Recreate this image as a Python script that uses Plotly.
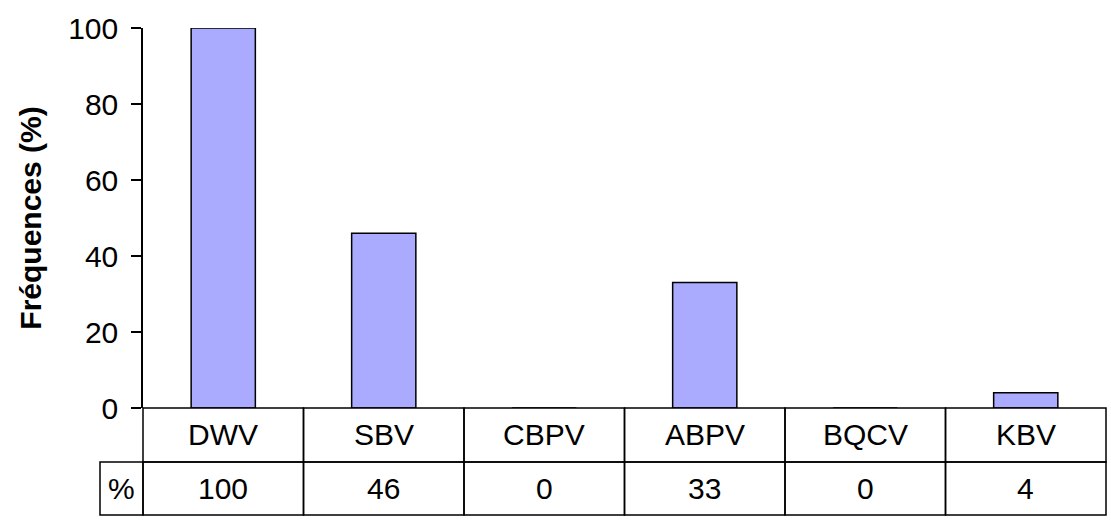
import plotly.graph_objects as go

categories = ["DWV", "SBV", "CBPV", "ABPV", "BQCV", "KBV"]
values = [100, 46, 0, 33, 0, 4]
row_label = "%"
y_ticks = [0, 20, 40, 60, 80, 100]
y_title = "Fréquences (%)"

FONT = "Liberation Sans, Arial, sans-serif"
FS = 30
fig = go.Figure()
fig.add_trace(go.Bar(
    x=list(range(len(categories))), y=values, width=0.4,
    marker=dict(color="#AAAAFF", line=dict(color="black", width=1.5)),
))

H = 380.0
W = 963.0
r1 = -54 / H
r2 = -107 / H
n = len(categories)
shapes = []
ln = dict(color="black", width=1.5)
for i in range(n):
    x0 = i / n
    x1 = (i + 1) / n
    shapes.append(dict(type="rect", xref="paper", yref="paper", x0=x0, x1=x1, y0=r1, y1=0,
                       line=ln, fillcolor="rgba(0,0,0,0)"))
    shapes.append(dict(type="rect", xref="paper", yref="paper", x0=x0, x1=x1, y0=r2, y1=r1,
                       line=ln, fillcolor="rgba(0,0,0,0)"))
shapes.append(dict(type="rect", xref="paper", yref="paper", x0=-43 / W, x1=0, y0=r2, y1=r1,
                   line=ln, fillcolor="rgba(0,0,0,0)"))

txt = dict(showarrow=False, xanchor="center", yanchor="middle",
           font=dict(size=FS, family=FONT, color="black"))
ann = []
for i, (c, v) in enumerate(zip(categories, values)):
    ann.append(dict(x=i, y=r1 / 2, xref="x", yref="paper", text=c, **txt))
    ann.append(dict(x=i, y=(r1 + r2) / 2, xref="x", yref="paper", text=str(v), **txt))
ann.append(dict(x=-21.5 / W, y=(r1 + r2) / 2, xref="paper", yref="paper", text=row_label, **txt))

fig.update_layout(
    width=1111, height=520,
    margin=dict(l=143, r=5, t=28, b=112),
    paper_bgcolor="white", plot_bgcolor="white",
    showlegend=False,
    shapes=shapes, annotations=ann,
    xaxis=dict(range=[-0.5, n - 0.5], showticklabels=False, showgrid=False, zeroline=False, showline=False,
               ticks="", automargin=False),
    yaxis=dict(range=[0, 100], tickvals=y_ticks, showgrid=False, zeroline=False, automargin=False,
               showline=True, linecolor="black", linewidth=1.5,
               ticks="outside", ticklen=10, tickwidth=1.5, tickcolor="black",
               ticklabelstandoff=7,
               tickfont=dict(size=FS, family=FONT, color="black"),
               title=dict(text="<b>" + y_title + "</b>", font=dict(size=30, family=FONT, color="black"), standoff=18)),
)
fig.write_html("out.html", config={"displayModeBar": False},
               post_script="document.body.style.margin='0';")
